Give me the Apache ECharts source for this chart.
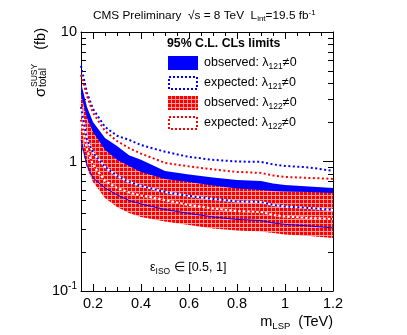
<!DOCTYPE html>
<html><head><meta charset="utf-8">
<script src="https://cdn.jsdelivr.net/npm/echarts@6/dist/echarts.min.js"></script>
<style>html,body{margin:0;padding:0;background:#fff}#c{width:407px;height:335px}</style>
</head><body><div id="c"></div>
<script>
const mass = [0.15,0.175,0.2,0.25,0.3,0.35,0.4,0.5,0.6,0.7,0.8,0.9,0.95,1.0,1.1,1.2];
const obs121Up = [4.05,2.64,2.02,1.52,1.32,1.12,1.03,0.846,0.795,0.754,0.721,0.708,0.677,0.659,0.642,0.625];
const obs121Dn = [1.47,0.941,0.747,0.625,0.552,0.500,0.470,0.426,0.397,0.373,0.357,0.350,0.335,0.327,0.318,0.307];
const obs122Up = [3.27,2.17,1.69,1.23,1.03,0.925,0.831,0.734,0.696,0.654,0.620,0.603,0.593,0.587,0.582,0.572];
const obs122Dn = [1.34,0.892,0.696,0.523,0.446,0.401,0.373,0.344,0.324,0.304,0.293,0.288,0.281,0.273,0.266,0.257];
const exp121Up = [5.48,3.39,2.55,1.85,1.58,1.47,1.34,1.19,1.085,1.03,1.0,0.993,0.95,0.925,0.90,0.846];
const exp121Dn = [2.64,1.47,1.17,0.908,0.774,0.696,0.648,0.582,0.542,0.514,0.492,0.487,0.462,0.450,0.438,0.423];
const exp122Up = [4.67,3.21,2.38,1.72,1.44,1.27,1.15,0.975,0.917,0.869,0.831,0.816,0.781,0.760,0.747,0.734];
const exp122Dn = [2.10,1.23,0.941,0.708,0.625,0.577,0.547,0.505,0.462,0.434,0.415,0.408,0.387,0.376,0.366,0.360];
const xTickLabels = [0.2,0.4,0.6,0.8,1,1.2];
const yMinorTicks = [0.2,0.3,0.4,0.5,0.6,0.7,0.8,0.9,2,3,4,5,6,7,8,9];

const FONT = "'Liberation Sans', Arial, Helvetica, sans-serif";
const BLUE = '#0000ff', RED = '#ff0000';

// red hatched pattern
const pc = document.createElement('canvas');
pc.width = 4; pc.height = 4;
const pctx = pc.getContext('2d');
pctx.fillStyle = RED; pctx.fillRect(0,0,4,4);
pctx.fillStyle = 'rgba(255,170,170,0.9)';
pctx.fillRect(0,3,4,1); pctx.fillRect(3,0,1,4);
const redPattern = {image: pc, repeat: 'repeat'};

function pairs(ys){ return mass.map((m,i)=>[m, ys[i]]); }

function band(up, dn, fill, z){
  return {
    type: 'custom', z: z, silent: true, clip: true,
    data: [[mass[0], up[0]]],
    renderItem: function(params, api){
      const pts = [];
      for (let i=0;i<mass.length;i++) pts.push(api.coord([mass[i], up[i]]));
      for (let i=mass.length-1;i>=0;i--) pts.push(api.coord([mass[i], dn[i]]));
      return {type:'polygon', shape:{points: pts}, style:{fill: fill, stroke: null}};
    }
  };
}
function line(ys, color, width, dash, z){
  return {type:'line', data: pairs(ys), showSymbol:false, symbol:'none', z:z, silent:true,
    lineStyle:{color: color, width: width, type: dash || 'solid', cap:'butt'}};
}

const xCommon = {type:'value', min:0.15, max:1.2, splitLine:{show:false}};
const yCommon = {type:'log', logBase:10, min:0.1, max:10, splitLine:{show:false}};
const axisLine = {show:true, lineStyle:{color:'#000', width:1}};

const option = {
  animation: false,
  grid: {left:81, right:74, top:32, bottom:44, containLabel:false},
  xAxis: [
    Object.assign({}, xCommon, {position:'bottom', axisLine: axisLine,
      axisTick:{show:true, inside:true, length:7, customValues: xTickLabels, lineStyle:{color:'#000'}},
      axisLabel:{show:true, customValues: xTickLabels, color:'#000', fontSize:14.5, fontFamily:FONT, margin:5}}),
    Object.assign({}, xCommon, {position:'bottom', interval:0.05, axisLine:{show:false},
      axisTick:{show:true, inside:true, length:4, lineStyle:{color:'#000'}}, axisLabel:{show:false}}),
    Object.assign({}, xCommon, {position:'top', axisLine: axisLine,
      axisTick:{show:true, inside:true, length:7, customValues: xTickLabels, lineStyle:{color:'#000'}},
      axisLabel:{show:false}}),
    Object.assign({}, xCommon, {position:'top', interval:0.05, axisLine:{show:false},
      axisTick:{show:true, inside:true, length:4, lineStyle:{color:'#000'}}, axisLabel:{show:false}})
  ],
  yAxis: [
    Object.assign({}, yCommon, {position:'left', axisLine: axisLine,
      axisTick:{show:true, inside:true, length:10, lineStyle:{color:'#000'}},
      axisLabel:{show:true, margin:4, color:'#000', fontFamily:FONT,
        formatter: function(v){ if (v < 0.5) return '{b|10}{s|-1}'; if (v < 5) return '{b|1}'; return '{b|10}'; },
        rich:{ b:{fontSize:14.5, fontFamily:FONT, color:'#000'}, s:{fontSize:10, fontFamily:FONT, color:'#000', padding:[0,0,10,0]} }}}),
    Object.assign({}, yCommon, {position:'left', axisLine:{show:false},
      axisTick:{show:true, inside:true, length:5, customValues: yMinorTicks, lineStyle:{color:'#000'}}, axisLabel:{show:false}}),
    Object.assign({}, yCommon, {position:'right', axisLine: axisLine,
      axisTick:{show:true, inside:true, length:10, lineStyle:{color:'#000'}}, axisLabel:{show:false}}),
    Object.assign({}, yCommon, {position:'right', axisLine:{show:false},
      axisTick:{show:true, inside:true, length:5, customValues: yMinorTicks, lineStyle:{color:'#000'}}, axisLabel:{show:false}})
  ],
  series: [
    band(obs121Up, obs121Dn, BLUE, 1),
    band(obs122Up, obs122Dn, redPattern, 2),
    line(obs121Dn, BLUE, 1, 'solid', 3),
    line(exp121Dn, '#fff', 2, 'solid', 4),
    line(exp122Dn, '#fff', 2, 'solid', 4),
    line(exp121Up, BLUE, 2, [2,2.5], 5),
    line(exp121Dn, BLUE, 2, [2,2.5], 5),
    line(exp122Up, RED, 2, [2,2.5], 5),
    line(exp122Dn, RED, 2, [2,2.5], 5)
  ],
  graphic: [
    {type:'text', left: 93, top: 9, z: 10, style:{
      text:'{t|CMS Preliminary  √s = 8 TeV  L}{sb|int}{t|=19.5 fb}{sp|-1}', fill:'#000',
      rich:{ t:{fontSize:11.8, fontFamily:FONT}, sb:{fontSize:8, fontFamily:FONT, padding:[6,0,0,0]}, sp:{fontSize:8, fontFamily:FONT, padding:[0,0,6,0]} }}},
    // y-axis title (rotated)
    {type:'text', x: 41, y: 97, rotation: Math.PI/2, z: 10, style:{
      text:'σ', fill:'#000', align:'left', verticalAlign:'middle', font:'15px ' + FONT}},
    {type:'text', x: 34.5, y: 87, rotation: Math.PI/2, z: 10, style:{
      text:'SUSY', fill:'#000', align:'left', verticalAlign:'middle', font:'8.5px ' + FONT}},
    {type:'text', x: 43.5, y: 87, rotation: Math.PI/2, z: 10, style:{
      text:'total', fill:'#000', align:'left', verticalAlign:'middle', font:'10px ' + FONT}},
    {type:'text', x: 41, y: 28, rotation: Math.PI/2, z: 10, style:{
      text:'(fb)', fill:'#000', align:'right', verticalAlign:'middle', font:'14.5px ' + FONT}},
    {type:'text', x: 333, y: 322, z: 10, style:{
      text:'{t|m}{sb|LSP}{t|  (TeV)}', fill:'#000', align:'right', verticalAlign:'middle',
      rich:{ t:{fontSize:14.5, fontFamily:FONT}, sb:{fontSize:9.5, fontFamily:FONT, padding:[8,0,0,0]} }}},
    {type:'text', x: 150, y: 268, z: 10, style:{
      text:'{t|ε}{sb|ISO}{t| ∈ [0.5, 1]}', fill:'#000', align:'left', verticalAlign:'middle',
      rich:{ t:{fontSize:12.5, fontFamily:FONT}, sb:{fontSize:8.5, fontFamily:FONT, padding:[7,0,0,0]} }}},
    {type:'text', x: 167, y: 44, z: 10, style:{
      text:'95% C.L. CLs limits', fill:'#000', align:'left', verticalAlign:'middle', font:'bold 12.3px ' + FONT}},
    {type:'rect', shape:{x:168, y:56, width:30, height:14}, z:10, style:{fill: BLUE}},
    {type:'rect', shape:{x:169, y:77, width:28, height:12}, z:10, style:{fill:'none', stroke: BLUE, lineWidth:2, lineDash:[2,2]}},
    {type:'rect', shape:{x:168, y:96, width:30, height:14}, z:10, style:{fill: redPattern}},
    {type:'rect', shape:{x:169, y:117, width:28, height:12}, z:10, style:{fill:'none', stroke: RED, lineWidth:2, lineDash:[2,2]}},
    {type:'text', x: 204, y: 63, z: 10, style:{ text:'{t|observed: λ}{sb|121}{t|≠0}', fill:'#000', align:'left', verticalAlign:'middle',
      rich:{ t:{fontSize:12.5, fontFamily:FONT}, sb:{fontSize:8.5, fontFamily:FONT, padding:[7,0,0,0]} }}},
    {type:'text', x: 204, y: 83, z: 10, style:{ text:'{t|expected: λ}{sb|121}{t|≠0}', fill:'#000', align:'left', verticalAlign:'middle',
      rich:{ t:{fontSize:12.5, fontFamily:FONT}, sb:{fontSize:8.5, fontFamily:FONT, padding:[7,0,0,0]} }}},
    {type:'text', x: 204, y: 103, z: 10, style:{ text:'{t|observed: λ}{sb|122}{t|≠0}', fill:'#000', align:'left', verticalAlign:'middle',
      rich:{ t:{fontSize:12.5, fontFamily:FONT}, sb:{fontSize:8.5, fontFamily:FONT, padding:[7,0,0,0]} }}},
    {type:'text', x: 204, y: 123, z: 10, style:{ text:'{t|expected: λ}{sb|122}{t|≠0}', fill:'#000', align:'left', verticalAlign:'middle',
      rich:{ t:{fontSize:12.5, fontFamily:FONT}, sb:{fontSize:8.5, fontFamily:FONT, padding:[7,0,0,0]} }}}
  ]
};
const chart = echarts.init(document.getElementById('c'), null, {renderer:'canvas'});
chart.setOption(option);
</script></body></html>
